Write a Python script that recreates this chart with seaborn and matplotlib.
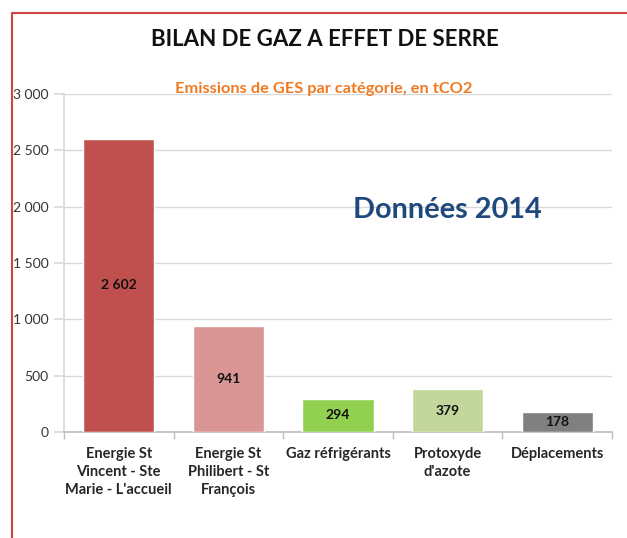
import matplotlib
matplotlib.use("Agg")
import matplotlib.pyplot as plt
import matplotlib.lines as mlines
import matplotlib.ticker as mticker
import numpy as np
import pandas as pd
import seaborn as sns

categories = [
    "Energie St\nVincent - Ste\nMarie - L'accueil",
    "Energie St\nPhilibert - St\nFrançois",
    "Gaz réfrigérants",
    "Protoxyde\nd'azote",
    "Déplacements",
]
values = [2602, 941, 294, 379, 178]
bar_colors = ["#C0504D", "#D99694", "#92D050", "#C3D69B", "#808080"]


def fmt_thousands(v):
    return f"{int(v):,}".replace(",", " ")


sns.set_theme(style="white")
plt.rcParams["font.family"] = ["Lato", "DejaVu Sans"]

df = pd.DataFrame({"cat": categories, "val": values})

fig = plt.figure(figsize=(6.27, 5.38), dpi=100, facecolor="white")
ax = fig.add_axes([64 / 627, 1 - 432 / 538, (612 - 64) / 627, (432 - 94) / 538])

sns.barplot(data=df, x="cat", y="val", hue="cat", palette=bar_colors,
            width=0.65, legend=False, ax=ax, saturation=1, zorder=3)

ax.set_xlim(-0.5, 4.5)
ax.set_ylim(0, 3000)
ax.yaxis.set_major_locator(mticker.MultipleLocator(500))
ax.yaxis.set_major_formatter(mticker.FuncFormatter(lambda v, p: fmt_thousands(v)))
ax.grid(axis="y", color="#D9D9D9", linewidth=1, zorder=0)
ax.set_xlabel("")
ax.set_ylabel("")

for s in ["top", "right"]:
    ax.spines[s].set_visible(False)
ax.spines["left"].set_color("#D9D9D9")
ax.spines["bottom"].set_color("#BFBFBF")

ax.tick_params(axis="y", length=7, color="#D9D9D9", labelsize=10,
               labelcolor="#333333", pad=4, left=True)
ax.tick_params(axis="x", which="major", length=0, labelsize=10.5, pad=11)
ax.set_xticks(np.arange(-0.5, 5, 1), minor=True)
ax.tick_params(axis="x", which="minor", length=5, color="#BFBFBF", bottom=True)
for lab in ax.get_xticklabels():
    lab.set_fontweight("bold")
    lab.set_linespacing(1.35)
    lab.set_verticalalignment("top")

for i, v in enumerate(values):
    ax.text(i, v / 2, fmt_thousands(v), ha="center", va="center",
            fontsize=10, fontweight="bold", color="#111111", zorder=4)

fig.text(325 / 627, 1 - 40 / 538, "BILAN DE GAZ A EFFET DE SERRE",
         ha="center", va="center", fontsize=16, fontweight="bold", color="#111111")
fig.text(324 / 627, 1 - 89 / 538, "Emissions de GES par catégorie, en tCO2",
         ha="center", va="center", fontsize=11.8, fontweight="bold", color="#F07A22")
fig.text(447 / 627, 1 - 210 / 538, "Données 2014",
         ha="center", va="center", fontsize=20.8, fontweight="bold", color="#1F497D")

# red frame
fig.add_artist(mlines.Line2D([12 / 627, 12 / 627], [0, 1 - 13 / 538],
                             color="#D0453F", linewidth=1.5, transform=fig.transFigure))
fig.add_artist(mlines.Line2D([12 / 627, 1], [1 - 13 / 538, 1 - 13 / 538],
                             color="#D0453F", linewidth=1.5, transform=fig.transFigure))

fig.savefig("out.png", dpi=100, facecolor="white")
